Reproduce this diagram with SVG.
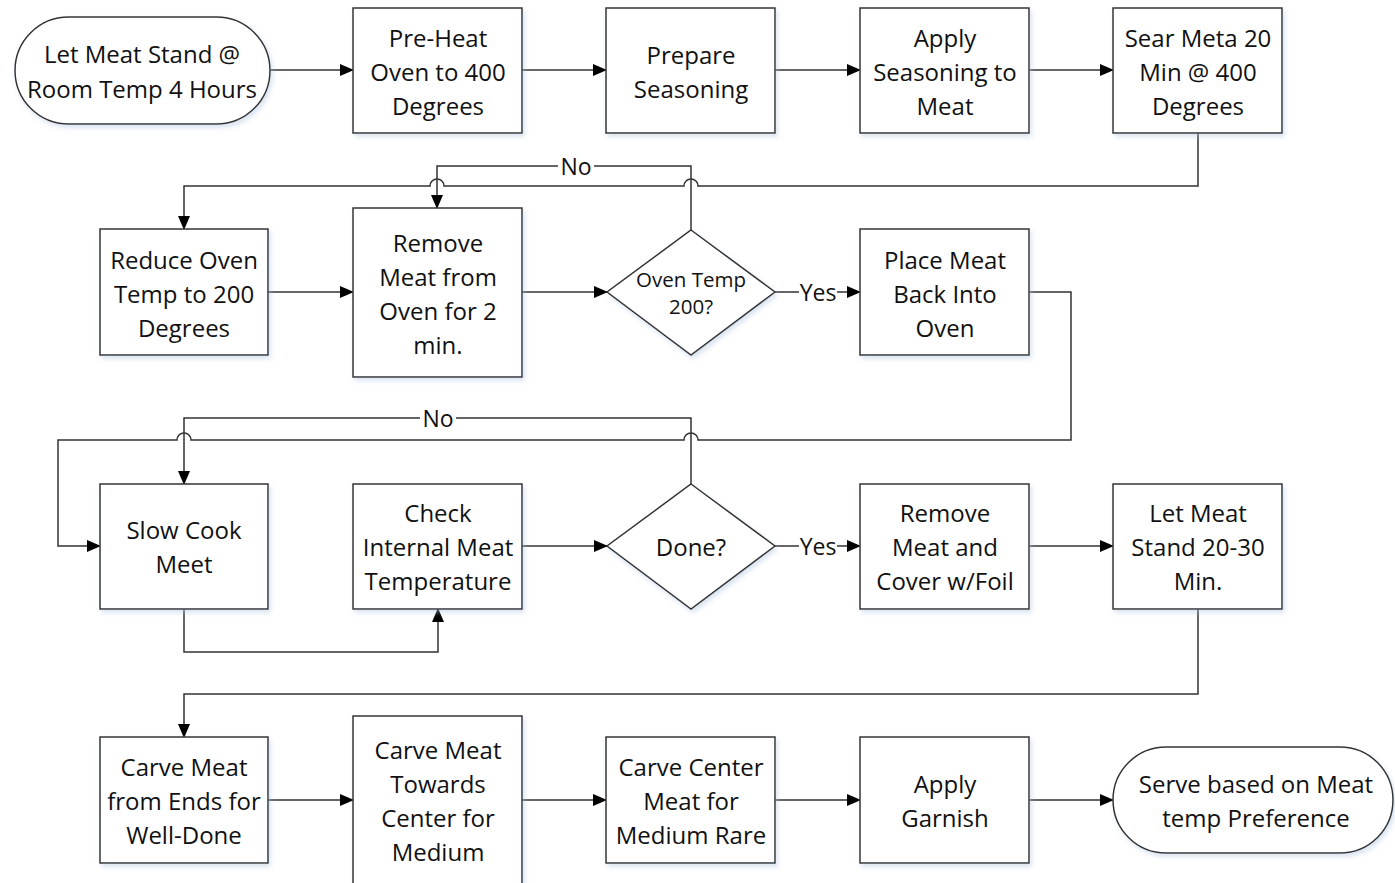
<svg xmlns="http://www.w3.org/2000/svg" width="1395" height="883" viewBox="0 0 1395 883">
<defs>
<marker id="arr" markerWidth="14" markerHeight="12" refX="13" refY="6" orient="auto" markerUnits="userSpaceOnUse">
<path d="M0,0 L14,6 L0,12 Z" fill="#000"/>
</marker>
<filter id="sh" x="-10%" y="-10%" width="130%" height="130%">
<feDropShadow dx="2" dy="3" stdDeviation="2.5" flood-color="#a9c1dd" flood-opacity="0.45"/>
</filter>
<style>
.n{fill:#fff;stroke:#333;stroke-width:1.5;filter:url(#sh)}
.t{font-family:"Open Sans","Liberation Sans",sans-serif;font-size:24px;fill:#111;text-anchor:middle;dominant-baseline:central}
.s{font-size:20.5px}
.c{fill:none;stroke:#333;stroke-width:1.5}
.l{font-family:"Open Sans","Liberation Sans",sans-serif;font-size:23px;fill:#111;text-anchor:middle;dominant-baseline:central}
</style>
</defs>
<rect width="1395" height="883" fill="#fff"/>

<g id="connectors">
<path class="c" d="M270,70 H353" marker-end="url(#arr)"/>
<path class="c" d="M522,70 H606" marker-end="url(#arr)"/>
<path class="c" d="M775,70 H860" marker-end="url(#arr)"/>
<path class="c" d="M1029,70 H1113" marker-end="url(#arr)"/>
<path class="c" d="M1198,133 V186 H698 A7,7 0 0 0 684,186 H444 A7,7 0 0 0 430,186 H184 V229" marker-end="url(#arr)"/>
<path class="c" d="M268,292 H353" marker-end="url(#arr)"/>
<path class="c" d="M522,292 H607" marker-end="url(#arr)"/>
<path class="c" d="M691,230 V166 H437 V208" marker-end="url(#arr)"/>
<path class="c" d="M775,292 H860" marker-end="url(#arr)"/>
<path class="c" d="M1029,292 H1071 V440 H698 A7,7 0 0 0 684,440 H191 A7,7 0 0 0 177,440 H58 V546 H100" marker-end="url(#arr)"/>
<path class="c" d="M691,484 V418 H184 V484" marker-end="url(#arr)"/>
<path class="c" d="M184,609 V652 H438 V609" marker-end="url(#arr)"/>
<path class="c" d="M522,546 H607" marker-end="url(#arr)"/>
<path class="c" d="M775,546 H860" marker-end="url(#arr)"/>
<path class="c" d="M1029,546 H1113" marker-end="url(#arr)"/>
<path class="c" d="M1198,609 V694 H184 V737" marker-end="url(#arr)"/>
<path class="c" d="M268,800 H353" marker-end="url(#arr)"/>
<path class="c" d="M522,800 H606" marker-end="url(#arr)"/>
<path class="c" d="M775,800 H860" marker-end="url(#arr)"/>
<path class="c" d="M1029,800 H1113" marker-end="url(#arr)"/>
<rect x="558" y="154" width="36" height="24" fill="#fff"/>
<text class="l" x="576" y="166">No</text>
<rect x="420" y="406" width="36" height="24" fill="#fff"/>
<text class="l" x="438" y="418">No</text>
<rect x="799" y="280" width="38" height="24" fill="#fff"/>
<text class="l" x="818" y="292">Yes</text>
<rect x="799" y="534" width="38" height="24" fill="#fff"/>
<text class="l" x="818" y="546">Yes</text>
</g>

<g id="start">
<rect class="n" x="15" y="17" width="255" height="107" rx="53.5" ry="53.5"/>
<text class="t" x="142" y="53">Let Meat Stand @</text>
<text class="t" x="142" y="88">Room Temp 4 Hours</text>
</g>
<g id="preheat">
<rect class="n" x="353" y="8" width="169" height="125"/>
<text class="t" x="438" y="37">Pre-Heat</text>
<text class="t" x="438" y="71">Oven to 400</text>
<text class="t" x="438" y="105">Degrees</text>
</g>
<g id="prepare">
<rect class="n" x="606" y="8" width="169" height="125"/>
<text class="t" x="691" y="54">Prepare</text>
<text class="t" x="691" y="88">Seasoning</text>
</g>
<g id="apply">
<rect class="n" x="860" y="8" width="169" height="125"/>
<text class="t" x="945" y="37">Apply</text>
<text class="t" x="945" y="71">Seasoning to</text>
<text class="t" x="945" y="105">Meat</text>
</g>
<g id="sear">
<rect class="n" x="1113" y="8" width="169" height="125"/>
<text class="t" x="1198" y="37">Sear Meta 20</text>
<text class="t" x="1198" y="71">Min @ 400</text>
<text class="t" x="1198" y="105">Degrees</text>
</g>

<g id="reduce">
<rect class="n" x="100" y="229" width="168" height="126"/>
<text class="t" x="184" y="259">Reduce Oven</text>
<text class="t" x="184" y="293">Temp to 200</text>
<text class="t" x="184" y="327">Degrees</text>
</g>
<g id="remove">
<rect class="n" x="353" y="208" width="169" height="169"/>
<text class="t" x="438" y="242">Remove</text>
<text class="t" x="438" y="276">Meat from</text>
<text class="t" x="438" y="310">Oven for 2</text>
<text class="t" x="438" y="344">min.</text>
</g>
<g id="oventemp">
<polygon class="n" points="691,230 775,292 691,355 607,292"/>
<text class="t s" x="691" y="279">Oven Temp</text>
<text class="t s" x="691" y="306">200?</text>
</g>
<g id="placeback">
<rect class="n" x="860" y="229" width="169" height="126"/>
<text class="t" x="945" y="259">Place Meat</text>
<text class="t" x="945" y="293">Back Into</text>
<text class="t" x="945" y="327">Oven</text>
</g>

<g id="slowcook">
<rect class="n" x="100" y="484" width="168" height="125"/>
<text class="t" x="184" y="529">Slow Cook</text>
<text class="t" x="184" y="563">Meet</text>
</g>
<g id="check">
<rect class="n" x="353" y="484" width="169" height="125"/>
<text class="t" x="438" y="512">Check</text>
<text class="t" x="438" y="546">Internal Meat</text>
<text class="t" x="438" y="580">Temperature</text>
</g>
<g id="done">
<polygon class="n" points="691,484 775,546 691,609 607,546"/>
<text class="t" x="691" y="546">Done?</text>
</g>
<g id="cover">
<rect class="n" x="860" y="484" width="169" height="125"/>
<text class="t" x="945" y="512">Remove</text>
<text class="t" x="945" y="546">Meat and</text>
<text class="t" x="945" y="580">Cover w/Foil</text>
</g>
<g id="stand">
<rect class="n" x="1113" y="484" width="169" height="125"/>
<text class="t" x="1198" y="512">Let Meat</text>
<text class="t" x="1198" y="546">Stand 20-30</text>
<text class="t" x="1198" y="580">Min.</text>
</g>

<g id="carveends">
<rect class="n" x="100" y="737" width="168" height="126"/>
<text class="t" x="184" y="766">Carve Meat</text>
<text class="t" x="184" y="800">from Ends for</text>
<text class="t" x="184" y="834">Well-Done</text>
</g>
<g id="carvetowards">
<rect class="n" x="353" y="716" width="169" height="170"/>
<text class="t" x="438" y="749">Carve Meat</text>
<text class="t" x="438" y="783">Towards</text>
<text class="t" x="438" y="817">Center for</text>
<text class="t" x="438" y="851">Medium</text>
</g>
<g id="carvecenter">
<rect class="n" x="606" y="737" width="169" height="126"/>
<text class="t" x="691" y="766">Carve Center</text>
<text class="t" x="691" y="800">Meat for</text>
<text class="t" x="691" y="834">Medium Rare</text>
</g>
<g id="garnish">
<rect class="n" x="860" y="737" width="169" height="126"/>
<text class="t" x="945" y="783">Apply</text>
<text class="t" x="945" y="817">Garnish</text>
</g>
<g id="serve">
<rect class="n" x="1113" y="747" width="280" height="106" rx="53" ry="53"/>
<text class="t" x="1256" y="783">Serve based on Meat</text>
<text class="t" x="1256" y="817">temp Preference</text>
</g>
</svg>
